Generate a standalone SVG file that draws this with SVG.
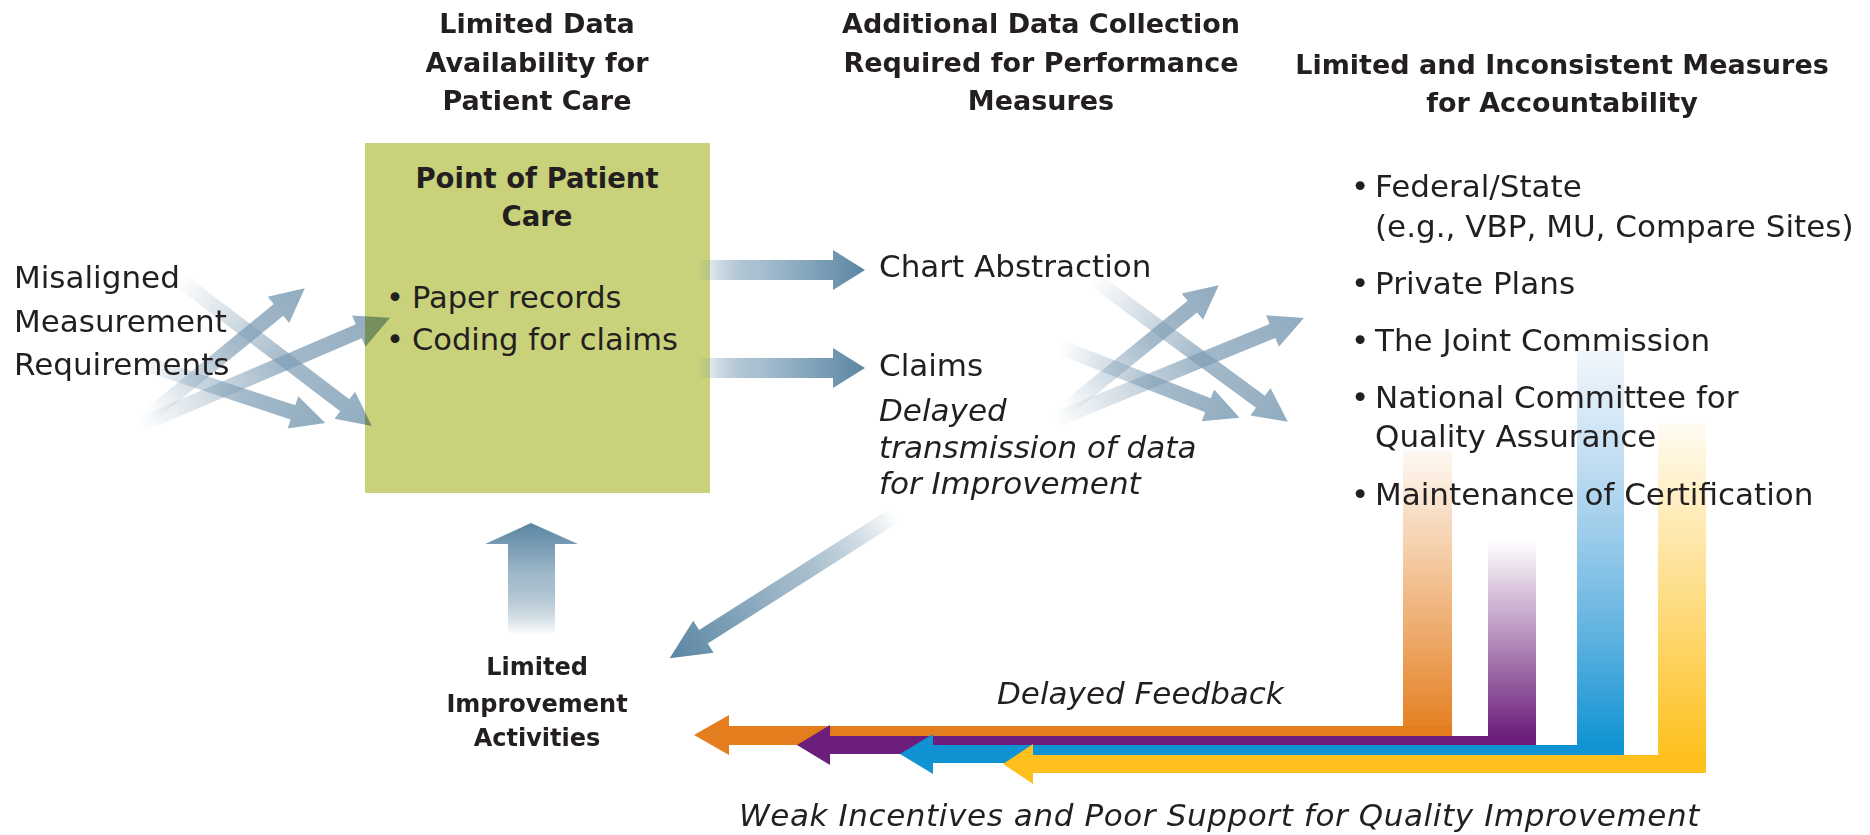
<svg xmlns="http://www.w3.org/2000/svg" width="1870" height="835" viewBox="0 0 1870 835">
<style>
text{font-family:"DejaVu Sans","Liberation Sans",sans-serif;fill:#231f20}
.hd{font-weight:bold;font-size:27px;text-anchor:middle}
.tt{font-weight:bold;font-size:27.5px;text-anchor:middle}
.bd{font-size:31px}
.bx{font-size:30.5px}
.it{font-size:31px;font-style:italic}
.lb{font-weight:bold;font-size:24px;text-anchor:middle}
.xa{fill:url(#gX)}
.blend{mix-blend-mode:multiply}
</style>
<defs>
<linearGradient id="gX" x1="0" y1="0" x2="1" y2="0">
<stop offset="0" stop-color="#7e9db4" stop-opacity="0"/>
<stop offset="0.55" stop-color="#7e9db4" stop-opacity="0.7"/>
<stop offset="1" stop-color="#7e9db4" stop-opacity="0.85"/>
</linearGradient>
<linearGradient id="gH" x1="0" y1="0" x2="1" y2="0">
<stop offset="0" stop-color="#5f88a3" stop-opacity="0.05"/>
<stop offset="0.35" stop-color="#a9c0d1"/>
<stop offset="1" stop-color="#5a86a3"/>
</linearGradient>
<linearGradient id="gD" x1="0" y1="0" x2="1" y2="0">
<stop offset="0" stop-color="#5f88a3" stop-opacity="0"/>
<stop offset="0.5" stop-color="#9db6c8"/>
<stop offset="1" stop-color="#5a86a3"/>
</linearGradient>
<linearGradient id="gU" x1="0" y1="1" x2="0" y2="0">
<stop offset="0" stop-color="#5f88a3" stop-opacity="0"/>
<stop offset="0.5" stop-color="#a5bccd"/>
<stop offset="1" stop-color="#5a86a3"/>
</linearGradient>
<linearGradient id="gO" x1="0" y1="0" x2="0" y2="1">
<stop offset="0" stop-color="#e5801f" stop-opacity="0.05"/>
<stop offset="1" stop-color="#e47d1e"/>
</linearGradient>
<linearGradient id="gP" x1="0" y1="0" x2="0" y2="1">
<stop offset="0" stop-color="#6e217a" stop-opacity="0"/>
<stop offset="1" stop-color="#6b1e7b"/>
</linearGradient>
<linearGradient id="gB" x1="0" y1="0" x2="0" y2="1">
<stop offset="0" stop-color="#6aa6de" stop-opacity="0.1"/>
<stop offset="1" stop-color="#0f93d2"/>
</linearGradient>
<linearGradient id="gY" x1="0" y1="0" x2="0" y2="1">
<stop offset="0" stop-color="#fdc11f" stop-opacity="0.05"/>
<stop offset="1" stop-color="#fdc01e"/>
</linearGradient>
</defs>

<g id="point-of-patient-care">
<rect x="365" y="143" width="345" height="350" fill="#c9d27b"/>
<text class="tt" x="537" y="188">Point of Patient</text>
<text class="tt" x="537" y="226">Care</text>
<text class="bx" x="386" y="308">•</text><text class="bx" x="412" y="308">Paper records</text>
<text class="bx" x="386" y="350">•</text><text class="bx" x="412" y="350">Coding for claims</text>
</g>

<g id="connectors">
<g class="blend">
<path class="xa" d="M0,-7.5 L166,-7.5 L166,-17 L200,0 L166,17 L166,7.5 L0,7.5 Z" transform="translate(150,415) rotate(-39.3)"/>
<path class="xa" d="M0,-7.5 L238,-7.5 L238,-17 L272,0 L238,17 L238,7.5 L0,7.5 Z" transform="translate(140,425) rotate(-23.2)"/>
<path class="xa" d="M0,-7.5 L161,-7.5 L161,-17 L195,0 L161,17 L161,7.5 L0,7.5 Z" transform="translate(140,362) rotate(18.2)"/>
<path class="xa" d="M0,-7.5 L207,-7.5 L207,-17 L241,0 L207,17 L207,7.5 L0,7.5 Z" transform="translate(180,280) rotate(37.25)"/>
<path class="xa" d="M0,-7.5 L164,-7.5 L164,-17 L198,0 L164,17 L164,7.5 L0,7.5 Z" transform="translate(1065,410) rotate(-39.06)"/>
<path class="xa" d="M0,-7.5 L235,-7.5 L235,-17 L269,0 L235,17 L235,7.5 L0,7.5 Z" transform="translate(1055,420) rotate(-22.27)"/>
<path class="xa" d="M0,-7.5 L159,-7.5 L159,-17 L193,0 L159,17 L159,7.5 L0,7.5 Z" transform="translate(1060,347) rotate(21.53)"/>
<path class="xa" d="M0,-7.5 L209,-7.5 L209,-17 L243,0 L209,17 L209,7.5 L0,7.5 Z" transform="translate(1092,278) rotate(36.3)"/>
</g>
<path fill="url(#gH)" d="M0,-10 L133,-10 L133,-20 L165,0 L133,20 L133,10 L0,10 Z" transform="translate(700,270)"/>
<path fill="url(#gH)" d="M0,-10 L133,-10 L133,-20 L165,0 L133,20 L133,10 L0,10 Z" transform="translate(700,368)"/>
<path fill="url(#gD)" d="M0,-8 L227,-8 L227,-19 L267,0 L227,19 L227,8 L0,8 Z" transform="translate(895,515) rotate(147.56)"/>
<path fill="url(#gU)" d="M508,635 L508,544 L485,544 L531,523 L578,544 L555,544 L555,635 Z"/>

<rect x="1403" y="450" width="49" height="286" fill="url(#gO)"/>
<path fill="#e47d1e" d="M694,735 L729,715 L729,726 L1452,726 L1452,745 L729,745 L729,755 Z"/>
<rect x="1488" y="540" width="48" height="196" fill="url(#gP)"/>
<path fill="#6b1e7b" d="M797,745 L830,725 L830,736 L1536,736 L1536,754 L830,754 L830,765 Z"/>
<rect x="1577" y="350" width="47" height="396" fill="url(#gB)"/>
<path fill="#0f93d2" d="M900,754 L933,734 L933,745 L1624,745 L1624,763 L933,763 L933,774 Z"/>
<rect x="1658" y="423" width="48" height="334" fill="url(#gY)"/>
<path fill="#fdc01e" d="M1003,764 L1033,744 L1033,755 L1706,755 L1706,773 L1033,773 L1033,784 Z"/>
</g>

<g id="header-limited-data">
<text class="hd" x="537" y="33">Limited Data</text>
<text class="hd" x="537" y="72">Availability for</text>
<text class="hd" x="537" y="110">Patient Care</text>
</g>
<g id="header-additional-data">
<text class="hd" x="1041" y="33">Additional Data Collection</text>
<text class="hd" x="1041" y="72">Required for Performance</text>
<text class="hd" x="1041" y="110">Measures</text>
</g>
<g id="header-limited-measures">
<text class="hd" x="1562" y="74">Limited and Inconsistent Measures</text>
<text class="hd" x="1562" y="112">for Accountability</text>
</g>
<g id="misaligned">
<text class="bd" x="14" y="288">Misaligned</text>
<text class="bd" x="14" y="332">Measurement</text>
<text class="bd" x="14" y="375">Requirements</text>
</g>
<g id="chart-abstraction"><text class="bd" x="879" y="277">Chart Abstraction</text></g>
<g id="claims"><text class="bd" x="879" y="376">Claims</text></g>
<g id="delayed-transmission">
<text class="it" x="879" y="421">Delayed</text>
<text class="it" x="879" y="458">transmission of data</text>
<text class="it" x="879" y="494">for Improvement</text>
</g>
<g id="accountability-list">
<text class="bd" x="1351" y="197">•</text><text class="bd" x="1375" y="197">Federal/State</text>
<text class="bd" x="1375" y="237">(e.g., VBP, MU, Compare Sites)</text>
<text class="bd" x="1351" y="294">•</text><text class="bd" x="1375" y="294">Private Plans</text>
<text class="bd" x="1351" y="351">•</text><text class="bd" x="1375" y="351">The Joint Commission</text>
<text class="bd" x="1351" y="408">•</text><text class="bd" x="1375" y="408">National Committee for</text>
<text class="bd" x="1375" y="447">Quality Assurance</text>
<text class="bd" x="1351" y="505">•</text><text class="bd" x="1375" y="505">Maintenance of Certification</text>
</g>
<g id="limited-improvement">
<text class="lb" x="537" y="675">Limited</text>
<text class="lb" x="537" y="712">Improvement</text>
<text class="lb" x="537" y="746">Activities</text>
</g>
<g id="delayed-feedback"><text class="it" x="997" y="704">Delayed Feedback</text></g>
<g id="weak-incentives"><text class="it" x="739" y="826" letter-spacing="0.6">Weak Incentives and Poor Support for Quality Improvement</text></g>
</svg>
